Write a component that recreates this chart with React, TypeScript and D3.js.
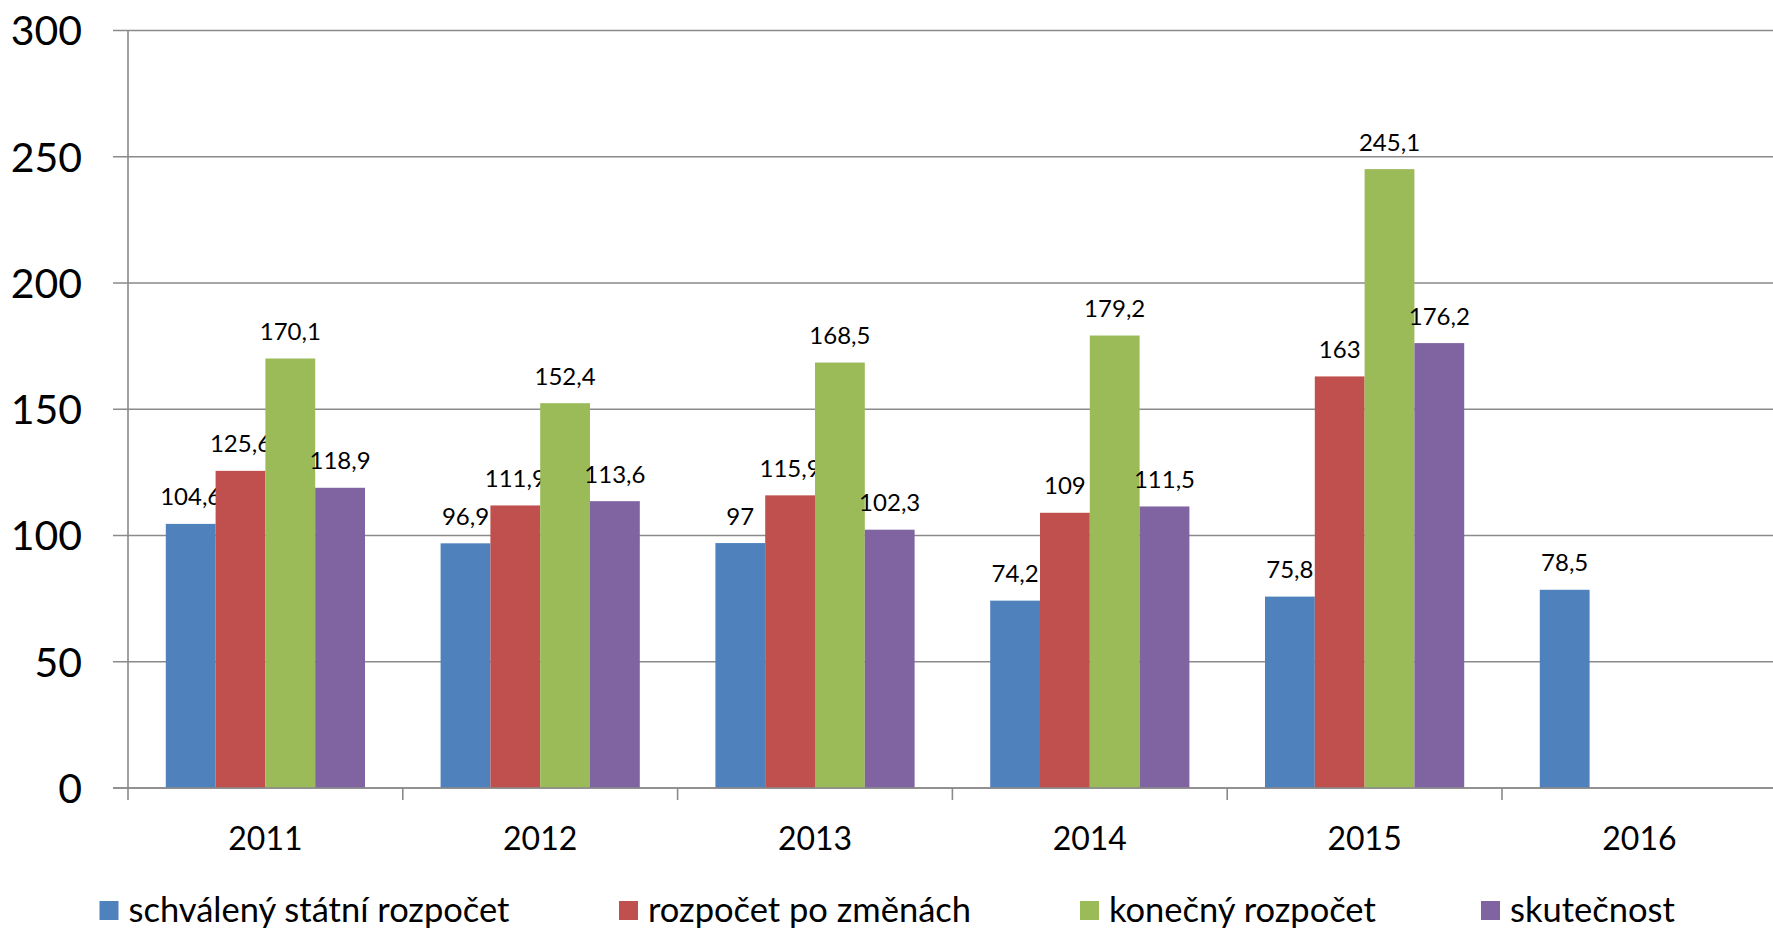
import React from 'react';
import * as d3 from 'd3';

const years = ['2011', '2012', '2013', '2014', '2015', '2016'];
const seriesNames = ['schválený státní rozpočet', 'rozpočet po změnách', 'konečný rozpočet', 'skutečnost'];
const schvaleny = [104.6, 96.9, 97, 74.2, 75.8, 78.5];
const poZmenach = [125.6, 111.9, 115.9, 109, 163, null];
const konecny = [170.1, 152.4, 168.5, 179.2, 245.1, null];
const skutecnost = [118.9, 113.6, 102.3, 111.5, 176.2, null];
const yTicks = [0, 50, 100, 150, 200, 250, 300];
const colors = ['#4F81BD', '#C0504D', '#9BBB59', '#8064A2'];

const W = 1773;
const H = 929;
const FONT = 'Lato, "Noto Sans", sans-serif';

const App = () => {
  const values = [schvaleny, poZmenach, konecny, skutecnost];

  const x0 = d3.scaleBand().domain(years).range([128, 128 + 6 * 274.8]).padding(0);
  const x1 = d3.scaleBand().domain(seriesNames).range([0, x0.bandwidth()]).paddingInner(0).paddingOuter(0.759);
  const y = d3.scaleLinear().domain([0, 300]).range([788, 30.5]);

  const fmt = (v: number) => String(v).replace('.', ',');
  const gridColor = '#8a8a8a';

  const legendX = [99.5, 619, 1080, 1481];

  return (
    <svg width={W} height={H} style={{ position: 'absolute', left: 0, top: 0, background: '#fff' }} fontFamily={FONT}>
      {/* gridlines + y labels */}
      {yTicks.map(t => (
        <g key={t}>
          <line x1={113} x2={W} y1={y(t)} y2={y(t)} stroke={gridColor} strokeWidth={1.6} />
          <text x={82} y={y(t)} dy="0.36em" textAnchor="end" fontSize={41} fill="#000">{t}</text>
        </g>
      ))}
      {/* y axis */}
      <line x1={128} x2={128} y1={y(300)} y2={y(0)} stroke={gridColor} strokeWidth={1.6} />

      {/* bars */}
      {years.map((yr, i) => (
        <g key={yr} transform={`translate(${x0(yr)},0)`}>
          {seriesNames.map((s, j) => {
            const v = values[j][i];
            if (v == null) return null;
            const bx = x1(s)!;
            return (
              <g key={s}>
                <rect x={bx} y={y(v)} width={x1.bandwidth()} height={y(0) - y(v)} fill={colors[j]} />
                <text x={bx + x1.bandwidth() / 2} y={y(v) - 18.5} textAnchor="middle" fontSize={24} fill="#000">{fmt(v)}</text>
              </g>
            );
          })}
        </g>
      ))}

      {/* x axis */}
      <line x1={113} x2={W} y1={y(0)} y2={y(0)} stroke={gridColor} strokeWidth={1.6} />
      {years.map(yr => (
        <line key={yr} x1={x0(yr)} x2={x0(yr)} y1={y(0)} y2={y(0) + 12} stroke={gridColor} strokeWidth={1.6} />
      ))}
      {years.map(yr => (
        <text key={yr} x={x0(yr)! + x0.bandwidth() / 2} y={838} dy="0.36em" textAnchor="middle" fontSize={32} fill="#000">{yr}</text>
      ))}

      {/* legend */}
      {seriesNames.map((s, j) => (
        <g key={s}>
          <rect x={legendX[j]} y={901} width={19} height={19} fill={colors[j]} />
          <text x={legendX[j] + 29} y={910} dy="0.36em" fontSize={34.5} fill="#000">{s}</text>
        </g>
      ))}
    </svg>
  );
};

export default App;
